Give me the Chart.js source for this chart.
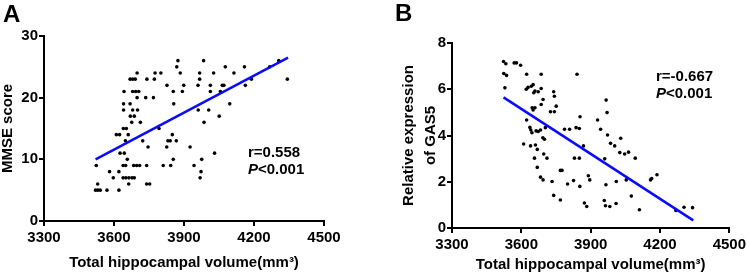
<!DOCTYPE html>
<html>
<head>
<meta charset="utf-8">
<script src="https://cdn.jsdelivr.net/npm/chart.js@4.4.1/dist/chart.umd.min.js"></script>
<style>
  body { margin: 0; background: #fff; }
  #wrap { position: relative; width: 749px; height: 279px; }
  canvas { position: absolute; top: 0; }
</style>
</head>
<body>
<div id="wrap">
  <canvas id="panelA" width="375" height="279" style="left:0"></canvas>
  <canvas id="panelB" width="374" height="279" style="left:375px"></canvas>
</div>
<script>
// tick labels
var volumeTicks = [3300, 3600, 3900, 4200, 4500];
var mmseTicks = [0, 10, 20, 30];
var gasTicks = [0, 2, 4, 6, 8];

// panel A - MMSE score vs hippocampal volume
var mmseVolume = [
  3874, 3984, 4306,
  3869, 4077, 4159, 4267,
  3699, 3776, 3801, 3884, 3967, 4027, 4114,
  3669, 3680, 3691, 3741, 3773, 3967, 4189, 4343,
  3827, 3899, 3960, 4013, 4064, 4071, 4163,
  3643, 3680, 3693, 3706, 3854, 3893, 4013, 4056,
  3699, 3736, 3769,
  3641, 3669, 3856, 4096,
  3641, 3680, 3701, 3961, 4006,
  3670, 3687, 4051,
  3676, 3713, 3986,
  3640, 3653, 3793,
  3610, 3624, 3661, 3850,
  3649, 3723, 3831, 3841, 3867,
  3746, 3826, 3926,
  3626, 3644, 4031,
  3657, 3854, 3976,
  3524, 3639, 3650, 3684, 3697, 3710, 3740, 3811, 3843, 3943,
  3581, 3621, 3973,
  3597, 3639, 3651, 3664, 3677, 3687, 3969,
  3530, 3663, 3740, 3753,
  3521, 3531, 3541, 3570, 3621
];
var mmseScore = [
  26, 26, 26,
  25, 25, 25, 25,
  24, 24, 24, 24, 24, 24, 24,
  23, 23, 23, 23, 23, 23, 23, 23,
  22, 22, 22, 22, 22, 22, 22,
  21, 21, 21, 21, 21, 21, 21, 21,
  20, 20, 20,
  19, 19, 19, 19,
  18, 18, 18, 18, 18,
  17, 17, 17,
  16, 16, 16,
  15, 15, 15,
  14, 14, 14, 14,
  13, 13, 13, 13, 13,
  12, 12, 12,
  11, 11, 11,
  10, 10, 10,
  9, 9, 9, 9, 9, 9, 9, 9, 9, 9,
  8, 8, 8,
  7, 7, 7, 7, 7, 7, 7,
  6, 6, 6, 6,
  5, 5, 5, 5, 5
];
var mmseFitVolume = [3521, 4346];
var mmseFitScore = [10.0, 26.5];

// panel B - GAS5 expression vs hippocampal volume
var gasVolume = [
  3523, 3533, 3569, 3579, 3597, 3524, 3536, 3529, 3623, 3686,
  3841, 3621, 3629, 3651, 3643, 3654, 3659, 3673, 3686, 3740,
  3743, 3694, 3686, 3647, 3651, 3659, 3726, 3743, 3751, 3623,
  3637, 3641, 3646, 3664, 3673, 3683, 3704, 3693, 3700, 3787,
  3809, 3837, 3851, 3854, 3610, 3640, 3661, 3669, 3697, 3711,
  3657, 3669, 3683, 3694, 3733, 3769, 3776, 3800, 3826, 3853,
  3740, 3769, 3830, 3851, 3869, 3890, 3896, 3873, 3883, 3930,
  3967, 3971, 3943, 3973, 4030, 3986, 4004, 4026, 4047, 4064,
  4093, 3961, 4011, 3966, 4054, 4076, 4159, 4164, 4187, 3959,
  3964, 3983, 4010, 4111, 4269, 4304, 4341
];
var gasExpression = [
  7.20, 7.10, 7.14, 7.14, 7.04, 6.68, 6.60, 6.06, 6.65, 6.65,
  6.65, 6.00, 6.08, 6.20, 6.13, 5.85, 5.92, 5.89, 6.03, 5.89,
  5.70, 5.56, 5.34, 5.20, 5.10, 5.20, 5.03, 5.03, 5.27, 4.67,
  4.35, 4.24, 4.12, 4.20, 4.17, 4.24, 4.34, 3.90, 3.84, 4.27,
  4.27, 4.34, 4.30, 4.81, 3.63, 3.55, 3.59, 3.40, 3.20, 3.02,
  3.02, 2.62, 2.20, 2.08, 2.01, 2.49, 2.49, 1.90, 2.05, 1.80,
  1.41, 1.21, 3.02, 3.02, 3.55, 2.26, 2.08, 1.08, 0.93, 4.67,
  5.53, 4.99, 4.27, 4.02, 3.88, 3.66, 3.55, 3.26, 3.20, 3.28,
  3.02, 2.99, 2.01, 1.87, 2.08, 1.38, 2.08, 2.14, 2.30, 1.19,
  0.96, 0.93, 1.06, 0.79, 0.76, 0.90, 0.88
];
var gasFitVolume = [3523, 4344];
var gasFitExpression = [5.65, 0.33];

var FONT = '"Liberation Sans", Arial, sans-serif';
var tickFont = { family: FONT, size: 15, weight: 'bold' };

var toPoints = function(xs, ys) {
  return xs.map(function(x, i) { return { x: x, y: ys[i] }; });
};

var fixedTicks = function(values) {
  return function(scale) {
    scale.ticks = values.map(function(v) { return { value: v }; });
  };
};

// plain numbers, no thousands separator
var plainLabel = function(value) { return String(value); };

// letters and r / P notes
var panelText = {
  id: 'panelText',
  afterDraw: function(chart, args, o) {
    var ctx = chart.ctx;
    ctx.save();
    ctx.fillStyle = '#000';
    ctx.textAlign = 'left';
    ctx.textBaseline = 'alphabetic';
    ctx.font = 'bold 24px ' + FONT;
    ctx.fillText(o.letter, o.letterX, o.letterY);
    ctx.font = 'bold 15px ' + FONT;
    ctx.fillText(o.r, o.noteX, o.noteY);
    ctx.font = 'italic bold 15px ' + FONT;
    ctx.fillText('P', o.noteX, o.noteY + 17);
    var w = ctx.measureText('P').width;
    ctx.font = 'bold 15px ' + FONT;
    ctx.fillText('<0.001', o.noteX + w, o.noteY + 17);
    ctx.restore();
  }
};

var makeChart = function(id, cfg) {
  return new Chart(document.getElementById(id), {
    type: 'scatter',
    data: {
      datasets: [{
        type: 'line',
        data: toPoints(cfg.fitX, cfg.fitY),
        borderColor: '#0a0aff',
        borderWidth: 2.5,
        pointRadius: 0,
        fill: false
      }, {
        data: toPoints(cfg.xs, cfg.ys),
        backgroundColor: '#000',
        borderColor: '#000',
        borderWidth: 0,
        pointRadius: 1.8
      }]
    },
    options: {
      responsive: false,
      animation: false,
      events: [],
      layout: { padding: cfg.padding },
      plugins: {
        legend: { display: false },
        tooltip: { enabled: false },
        panelText: cfg.text
      },
      scales: {
        x: {
          type: 'linear',
          min: 3300,
          max: 4500,
          afterBuildTicks: fixedTicks(volumeTicks),
          afterFit: function(s) { s.height = cfg.xHeight; },
          border: { display: true, color: '#000', width: 2 },
          grid: { drawOnChartArea: false, drawTicks: true, tickLength: 5, color: '#000', lineWidth: 2 },
          ticks: { color: '#000', font: tickFont, padding: 3, maxRotation: 0, autoSkip: false, callback: plainLabel },
          title: {
            display: true,
            text: 'Total hippocampal volume(mm³)',
            color: '#000',
            font: { family: FONT, size: 15, weight: 'bold', lineHeight: 1.2 },
            padding: { top: 0, bottom: cfg.xTitlePad }
          }
        },
        y: {
          min: cfg.yMin,
          max: cfg.yMax,
          afterBuildTicks: fixedTicks(cfg.yTicks),
          afterFit: function(s) { s.width = cfg.yWidth; },
          border: { display: true, color: '#000', width: 2 },
          grid: { drawOnChartArea: false, drawTicks: true, tickLength: 5, color: '#000', lineWidth: 2 },
          ticks: { color: '#000', font: tickFont, padding: 1, callback: plainLabel },
          title: {
            display: true,
            text: cfg.yTitle,
            color: '#000',
            font: { family: FONT, size: 15, weight: 'bold', lineHeight: cfg.yTitleLH },
            padding: { top: cfg.yTitlePad, bottom: 0 }
          }
        }
      }
    },
    plugins: [panelText]
  });
};

makeChart('panelA', {
  xs: mmseVolume, ys: mmseScore,
  fitX: mmseFitVolume, fitY: mmseFitScore,
  yMin: 0, yMax: 30, yTicks: mmseTicks,
  yTitle: 'MMSE score', yTitleLH: 1, yTitlePad: 0,
  yWidth: 44, xHeight: 58, xTitlePad: 7.5,
  padding: { top: 36, right: 51, bottom: 0, left: 0 },
  text: { letter: 'A', letterX: 3, letterY: 22, r: 'r=0.558', noteX: 248, noteY: 157 }
});

makeChart('panelB', {
  xs: gasVolume, ys: gasExpression,
  fitX: gasFitVolume, fitY: gasFitExpression,
  yMin: 0, yMax: 8, yTicks: gasTicks,
  yTitle: ['Relative expression', 'of GAS5'], yTitleLH: 1.45, yTitlePad: 22.8,
  yWidth: 77, xHeight: 51, xTitlePad: 5,
  padding: { top: 43, right: 17, bottom: 0, left: 0 },
  text: { letter: 'B', letterX: 20, letterY: 21, r: 'r=-0.667', noteX: 281, noteY: 81 }
});
</script>
</body>
</html>
